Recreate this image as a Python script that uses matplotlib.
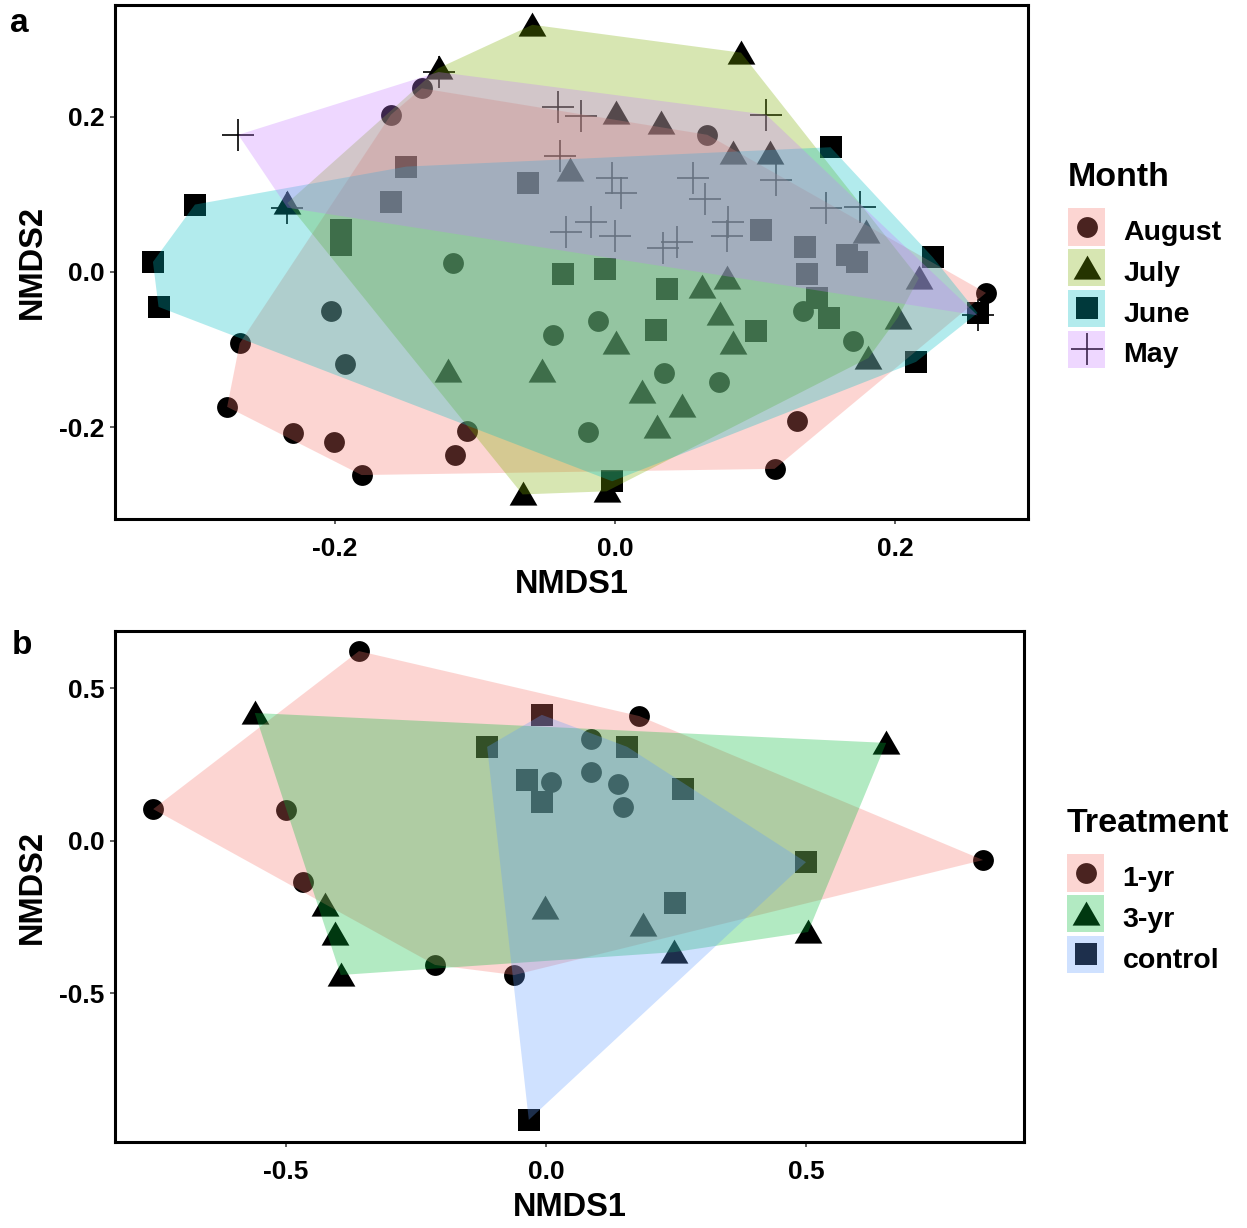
import numpy as np
import matplotlib
matplotlib.use("Agg")
import matplotlib.pyplot as plt
from matplotlib.lines import Line2D
from matplotlib.patches import Patch, Polygon, Rectangle
from matplotlib.path import Path
from matplotlib.legend_handler import HandlerTuple, HandlerPatch

plt.rcParams['font.family'] = ['Liberation Sans', 'DejaVu Sans']
plt.rcParams['font.weight'] = 'bold'
plt.rcParams['axes.unicode_minus'] = False

# ---- panel a: NMDS by month ----
aug_x = [-0.138, -0.160, -0.116, -0.268, -0.203, -0.193, -0.277, -0.230, -0.201, -0.181, -0.106, -0.114,
         -0.044, 0.066, 0.265, -0.012, 0.134, 0.170, 0.035, 0.074, -0.019, 0.130, 0.114]
aug_y = [0.237, 0.203, 0.012, -0.092, -0.050, -0.119, -0.174, -0.208, -0.219, -0.262, -0.205, -0.236,
         -0.081, 0.177, -0.027, -0.063, -0.050, -0.089, -0.130, -0.142, -0.207, -0.192, -0.254]

jul_x = [-0.059, -0.126, 0.090, 0.001, 0.033, 0.084, 0.111, -0.032, 0.179, 0.217, 0.062, 0.080, 0.001,
         0.075, 0.084, 0.202, 0.181, -0.119, -0.052, 0.019, 0.048, 0.030, -0.066, -0.006, -0.234]
jul_y = [0.319, 0.263, 0.283, 0.205, 0.192, 0.154, 0.154, 0.132, 0.052, -0.008, -0.019, -0.008, -0.092,
         -0.054, -0.092, -0.059, -0.111, -0.128, -0.128, -0.155, -0.173, -0.200, -0.287, -0.283, 0.089]

jun_x = [-0.149, -0.160, -0.062, -0.196, -0.196, -0.300, -0.330, -0.326, 0.154, 0.227, 0.104, 0.136, 0.166,
         0.173, -0.037, -0.007, 0.037, 0.137, 0.259, 0.029, 0.101, 0.144, 0.153, 0.215, -0.002]
jun_y = [0.136, 0.090, 0.115, 0.054, 0.035, 0.087, 0.013, -0.045, 0.161, 0.019, 0.054, 0.032, 0.022,
         0.013, -0.003, 0.004, -0.022, -0.003, -0.053, -0.075, -0.076, -0.034, -0.059, -0.116, -0.270]

may_x = [-0.126, -0.269, -0.041, -0.024, 0.108, -0.039, 0.115, -0.002, 0.004, 0.056, 0.064, 0.151, 0.175,
         -0.017, 0.000, -0.035, 0.034, 0.044, 0.081, 0.080, 0.259, -0.234]
may_y = [0.258, 0.177, 0.213, 0.201, 0.203, 0.150, 0.119, 0.121, 0.102, 0.121, 0.094, 0.083, 0.084,
         0.065, 0.047, 0.052, 0.031, 0.039, 0.065, 0.047, -0.056, 0.083]

months = ['August', 'July', 'June', 'May']
month_colors = ['#F8766D', '#7CAE00', '#00BFC4', '#C77CFF']

# ---- panel b: NMDS by treatment ----
yr1_x = [-0.359, -0.754, -0.499, 0.010, -0.466, 0.179, 0.086, 0.086, 0.138, 0.148, 0.839, -0.213, -0.061]
yr1_y = [0.621, 0.103, 0.100, 0.192, -0.136, 0.408, 0.333, 0.225, 0.185, 0.110, -0.064, -0.408, -0.441]

yr3_x = [-0.559, -0.424, -0.002, 0.653, -0.405, -0.394, 0.186, 0.246, 0.503]
yr3_y = [0.418, -0.212, -0.221, 0.320, -0.307, -0.441, -0.277, -0.366, -0.300]

ctl_x = [-0.008, -0.113, -0.037, -0.008, 0.156, 0.263, 0.499, 0.248, -0.033]
ctl_y = [0.412, 0.307, 0.198, 0.126, 0.307, 0.169, -0.071, -0.205, -0.916]

treatments = ['1-yr', '3-yr', 'control']
treat_colors = ['#F8766D', '#00BA38', '#619CFF']

tri = Path([(-1, -0.8), (1, -0.8), (0, 0.93), (-1, -0.8)],
           [Path.MOVETO, Path.LINETO, Path.LINETO, Path.CLOSEPOLY])
mk = {'circle': dict(marker='o', ms=15, mew=0),
      'tri': dict(marker=tri, ms=20, mew=0),
      'square': dict(marker='s', ms=15.5, mew=0),
      'plus': dict(marker='+', ms=23, mew=1.2)}


def hull(x, y):
    pts = sorted(set(zip(x, y)))
    def cross(o, a, b):
        return (a[0] - o[0]) * (b[1] - o[1]) - (a[1] - o[1]) * (b[0] - o[0])
    lower, upper = [], []
    for p in pts:
        while len(lower) >= 2 and cross(lower[-2], lower[-1], p) <= 0:
            lower.pop()
        lower.append(p)
    for p in reversed(pts):
        while len(upper) >= 2 and cross(upper[-2], upper[-1], p) <= 0:
            upper.pop()
        upper.append(p)
    return np.array(lower[:-1] + upper[:-1])


def key_rect(legend, orig_handle, xdescent, ydescent, width, height, fontsize):
    # full-height key box
    return Rectangle((-xdescent, -ydescent + 1.4), width, height + ydescent - 2.8)


def panel(ax, groups, colors, shapes, labels, title, xlim, ylim, ticks, anchor):
    for (gx, gy), s in zip(groups, shapes):
        ax.plot(gx, gy, ls='none', color='black', zorder=2, **mk[s])
    for (gx, gy), c in zip(groups, colors):
        ax.add_patch(Polygon(hull(gx, gy), closed=True, facecolor=c, alpha=0.3,
                             edgecolor='none', zorder=3))
    ax.set_xlim(xlim)
    ax.set_ylim(ylim)
    ax.set_xticks(ticks[0])
    ax.set_yticks(ticks[1])
    ax.set_xticklabels(['%.1f' % t for t in ticks[0]])
    ax.set_yticklabels(['%.1f' % t for t in ticks[1]])
    ax.tick_params(direction='out', length=3.5, width=1.1, color='#333333',
                   labelsize=19, pad=4, labelcolor='black')
    ax.tick_params(axis='x', pad=9.5)
    for sp in ax.spines.values():
        sp.set_linewidth(2.2)
    ax.set_xlabel('NMDS1', fontsize=23.5, fontweight='bold', labelpad=6)
    ax.set_ylabel('NMDS2', fontsize=23.5, fontweight='bold', labelpad=8)
    handles = []
    for c, s in zip(colors, shapes):
        h = Line2D([], [], ls='none', color='black', **mk[s])
        handles.append((h, Patch(facecolor=c, alpha=0.3, edgecolor='none')))
    leg = ax.legend(handles, labels,
                    handler_map={tuple: HandlerTuple(ndivide=1, pad=0),
                                 Patch: HandlerPatch(patch_func=key_rect)},
                    loc='upper left', bbox_to_anchor=anchor, bbox_transform=fig.transFigure,
                    frameon=False, fontsize=20.5, title=title, alignment='left',
                    title_fontproperties={'weight': 'bold', 'size': 24.5},
                    handlelength=1.3, handleheight=1.44, labelspacing=0.25,
                    handletextpad=0.65, borderpad=0, borderaxespad=0, numpoints=1)
    leg._legend_box.sep = 15


fig = plt.figure(figsize=(12.47, 12.28), dpi=100)
ax1 = fig.add_axes([115 / 1247, 1 - 519 / 1228, 913 / 1247, 514 / 1228])
ax2 = fig.add_axes([115 / 1247, 1 - 1142 / 1228, 909 / 1247, 511 / 1228])

panel(ax1, [(aug_x, aug_y), (jul_x, jul_y), (jun_x, jun_y), (may_x, may_y)],
      month_colors, ['circle', 'tri', 'square', 'plus'], months, 'Month',
      (-0.3571, 0.2950), (-0.3187, 0.3445), ([-0.2, 0.0, 0.2], [-0.2, 0.0, 0.2]),
      (1068 / 1247, 1 - 162 / 1228))
panel(ax2, [(yr1_x, yr1_y), (yr3_x, yr3_y), (ctl_x, ctl_y)],
      treat_colors, ['circle', 'tri', 'square'], treatments, 'Treatment',
      (-0.8273, 0.9175), (-0.9885, 0.6869), ([-0.5, 0.0, 0.5], [-0.5, 0.0, 0.5]),
      (1067 / 1247, 1 - 808 / 1228))

fig.text(10 / 1247, 1 - 8 / 1228, 'a', fontsize=24, fontweight='bold', va='top')
fig.text(12 / 1247, 1 - 630 / 1228, 'b', fontsize=24, fontweight='bold', va='top')

fig.savefig('out.png', dpi=100)
